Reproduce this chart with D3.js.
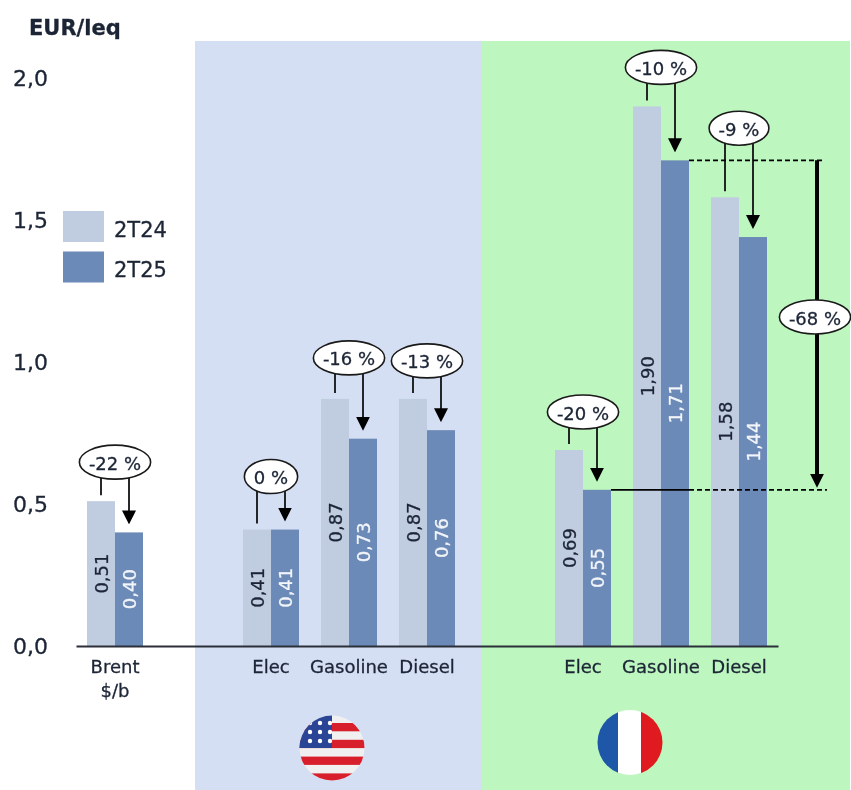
<!DOCTYPE html>
<html lang="en">
<head>
  <meta charset="UTF-8">
  <title>EUR/leq</title>
  <script src="https://d3js.org/d3.v7.min.js"></script>
  <style>
    body { margin: 0; background: white; }
    svg { display: block; filter: blur(0.5px); }
    text { font-family: "DejaVu Sans", sans-serif; fill: #1c2536; stroke: #1c2536; stroke-width: 0.3px; }
    text.onDark { fill: #f2f5fa; stroke: #f2f5fa; }
  </style>
</head>
<body>
<div id="chart"></div>
<script>
// slots on the x axis, the gaps keep the groups apart
const slots = ["Brent", "gap1", "US Elec", "US Gasoline", "US Diesel", "gap2", "FR Elec", "FR Gasoline", "FR Diesel"];
const categories = ["Brent", "US Elec", "US Gasoline", "US Diesel", "FR Elec", "FR Gasoline", "FR Diesel"];
const tickLabels = ["Brent", "Elec", "Gasoline", "Diesel", "Elec", "Gasoline", "Diesel"];
const values2T24 = [0.51, 0.41, 0.87, 0.87, 0.69, 1.90, 1.58];
const values2T25 = [0.40, 0.41, 0.73, 0.76, 0.55, 1.71, 1.44];
const changes = ["-22 %", "0 %", "-16 %", "-13 %", "-20 %", "-10 %", "-9 %"];
const seriesNames = ["2T24", "2T25"];
const yTicks = [0, 0.5, 1, 1.5, 2];

const width = 851, height = 790;
const lightBar = "#c0cce0", darkBar = "#6c8ab7";
// how far each change bubble sits above its 2T24 bar
const bubbleLift = [39, 53, 41, 38, 38, 39, 69];

const svg = d3.select("#chart").append("svg")
  .attr("width", width)
  .attr("height", height);

const x = d3.scaleBand()
  .domain(slots)
  .range([76, 778])
  .paddingInner(22 / 78)
  .paddingOuter(11 / 78);

const y = d3.scaleLinear()
  .domain([0, 2])
  .range([646, 78]);

const barW = x.bandwidth() / 2;
const fmt = d => d.toFixed(2).replace(".", ",");

// background panels
svg.append("rect").attr("x", 195).attr("y", 41).attr("width", 287).attr("height", 749).attr("fill", "#d5dff3");
svg.append("rect").attr("x", 482).attr("y", 41).attr("width", 368).attr("height", 749).attr("fill", "#bdf6bf");

// bars
svg.selectAll(".bar24").data(categories).enter().append("rect")
  .attr("class", "bar24")
  .attr("x", d => x(d))
  .attr("y", (d, i) => y(values2T24[i]))
  .attr("width", barW)
  .attr("height", (d, i) => y(0) - y(values2T24[i]))
  .attr("fill", lightBar);

svg.selectAll(".bar25").data(categories).enter().append("rect")
  .attr("class", "bar25")
  .attr("x", d => x(d) + barW)
  .attr("y", (d, i) => y(values2T25[i]))
  .attr("width", barW)
  .attr("height", (d, i) => y(0) - y(values2T25[i]))
  .attr("fill", darkBar);

// value labels, rotated, middle of the bar
function valueLabels(values, offset, cls) {
  svg.selectAll(null).data(categories).enter().append("text")
    .attr("class", cls)
    .attr("transform", (d, i) =>
      "translate(" + (x(d) + offset) + "," + y(values[i] / 2) + ") rotate(-90)")
    .attr("text-anchor", "middle")
    .attr("dominant-baseline", "central")
    .attr("font-size", "18px")
    .text((d, i) => fmt(values[i]));
}
valueLabels(values2T24, barW / 2, "onLight");
valueLabels(values2T25, barW * 1.5, "onDark");

// y axis, labels only
const yAxis = svg.append("g")
  .attr("transform", "translate(48,0)")
  .call(d3.axisLeft(y).tickValues(yTicks).tickSize(0).tickPadding(0)
    .tickFormat(d => d.toFixed(1).replace(".", ",")));
yAxis.select(".domain").remove();
yAxis.selectAll("text").attr("font-size", "22px").attr("font-family", null);

svg.append("text").attr("x", 29).attr("y", 35)
  .attr("font-size", "21px").attr("font-weight", "bold").text("EUR/leq");

// x axis
const xAxis = svg.append("g")
  .attr("transform", "translate(0," + y(0) + ")")
  .call(d3.axisBottom(x).tickSize(0).tickSizeOuter(0).tickPadding(0)
    .tickFormat(d => { const i = categories.indexOf(d); return i < 0 ? "" : tickLabels[i]; }));
xAxis.select(".domain").attr("stroke", "#2b2f38").attr("stroke-width", 2);
xAxis.selectAll("text").attr("y", 27).attr("dy", 0).attr("font-size", "18px").attr("font-family", null);
svg.append("text").attr("x", x("Brent") + barW).attr("y", 697)
  .attr("text-anchor", "middle").attr("font-size", "18px").text("$/b");

// legend
seriesNames.forEach((name, i) => {
  svg.append("rect").attr("x", 63).attr("y", 211 + i * 40.5).attr("width", 41).attr("height", 31)
    .attr("fill", i ? darkBar : lightBar);
  svg.append("text").attr("x", 114).attr("y", 237 + i * 40)
    .attr("font-size", "21px").text(name);
});

// arrow head, the line stops at its middle
svg.append("defs").append("marker")
  .attr("id", "head")
  .attr("viewBox", "0 0 12 12")
  .attr("markerUnits", "userSpaceOnUse")
  .attr("markerWidth", 14).attr("markerHeight", 14)
  .attr("refX", 6).attr("refY", 6)
  .attr("orient", "auto")
  .append("path").attr("d", "M0,0L12,6L0,12Z").attr("fill", "black");

function bubble(cx, cy, label) {
  const g = svg.append("g");
  const el = g.append("ellipse").attr("cx", cx).attr("cy", cy).attr("ry", 17)
    .attr("fill", "white").attr("stroke", "#1a1a1a").attr("stroke-width", 1.6);
  const t = g.append("text").attr("x", cx).attr("y", cy + 1)
    .attr("text-anchor", "middle").attr("dominant-baseline", "central")
    .attr("font-size", "18px").text(label);
  el.attr("rx", t.node().getComputedTextLength() / 2 + 9.5);
}

// change arrows and bubbles
categories.forEach((c, i) => {
  const top = y(values2T24[i]);
  const cy = top - bubbleLift[i];
  const xOld = x(c) + barW / 2, xNew = x(c) + barW * 1.5;
  svg.append("line").attr("x1", xOld).attr("x2", xOld).attr("y1", cy).attr("y2", top - 6)
    .attr("stroke", "#111").attr("stroke-width", 1.8);
  svg.append("line").attr("x1", xNew).attr("x2", xNew).attr("y1", cy).attr("y2", y(values2T25[i]) - 15)
    .attr("stroke", "#111").attr("stroke-width", 1.8).attr("marker-end", "url(#head)");
  bubble(x(c) + barW, cy, changes[i]);
});

// France elec vs gasoline bracket
const bracketX = 817;
const elecTop = y(values2T25[4]), gasTop = y(values2T25[5]);
const gasRight = x("FR Gasoline") + 2 * barW;
svg.append("line").attr("x1", gasRight).attr("x2", 823)
  .attr("y1", gasTop).attr("y2", gasTop)
  .attr("stroke", "black").attr("stroke-width", 1.8).attr("stroke-dasharray", "5,3");
// solid over the bars, dashed after that
svg.append("line").attr("x1", x("FR Elec") + 2 * barW).attr("x2", gasRight)
  .attr("y1", elecTop).attr("y2", elecTop)
  .attr("stroke", "black").attr("stroke-width", 1.8);
svg.append("line").attr("x1", gasRight).attr("x2", 827)
  .attr("y1", elecTop).attr("y2", elecTop)
  .attr("stroke", "black").attr("stroke-width", 1.8).attr("stroke-dasharray", "5,3");
svg.append("line").attr("x1", bracketX).attr("x2", bracketX).attr("y1", gasTop).attr("y2", elecTop - 9)
  .attr("stroke", "black").attr("stroke-width", 4).attr("marker-end", "url(#head)");
bubble(815, 317, "-68 %");

// flags
const defs = svg.select("defs");
defs.append("clipPath").attr("id", "usClip").append("circle").attr("cx", 332).attr("cy", 748).attr("r", 32.5);
defs.append("clipPath").attr("id", "frClip").append("circle").attr("cx", 630).attr("cy", 742.5).attr("r", 32.5);

const us = svg.append("g").attr("clip-path", "url(#usClip)");
us.append("rect").attr("x", 299).attr("y", 715).attr("width", 67).attr("height", 67).attr("fill", "#f0f0f0");
d3.range(0, 7, 2).forEach(k => {
  us.append("rect").attr("x", 299).attr("y", 723 + k * 8.4).attr("width", 67).attr("height", 8.3).attr("fill", "#d8202c");
});
us.append("rect").attr("x", 299).attr("y", 715).attr("width", 33).attr("height", 33).attr("fill", "#2b4596");
d3.range(3).forEach(r => d3.range(3).forEach(q => {
  us.append("circle").attr("cx", 310 + q * 10).attr("cy", 723 + r * 9).attr("r", 2.2).attr("fill", "white");
}));

const fr = svg.append("g").attr("clip-path", "url(#frClip)");
fr.append("rect").attr("x", 597).attr("y", 709).attr("width", 21).attr("height", 67).attr("fill", "#1f57a8");
fr.append("rect").attr("x", 618).attr("y", 709).attr("width", 23).attr("height", 67).attr("fill", "#ffffff");
fr.append("rect").attr("x", 641).attr("y", 709).attr("width", 23).attr("height", 67).attr("fill", "#e01b1f");
</script>
</body>
</html>
